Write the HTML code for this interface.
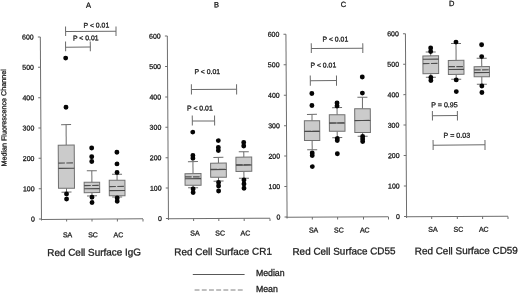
<!DOCTYPE html>
<html><head><meta charset="utf-8"><title>Red cell surface box plots</title>
<style>
html,body{margin:0;padding:0;background:#fff;}
body{width:520px;height:293px;overflow:hidden;}
svg{display:block;filter:grayscale(1);}
svg text{font-family:"Liberation Sans", sans-serif;fill:#1e1e1e;stroke:#1e1e1e;stroke-width:0.3px;}
</style></head><body>
<svg width="520" height="293" viewBox="0 0 520 293">
<rect width="520" height="293" fill="#fff"/>
<g transform="rotate(-0.36 260.0 146.5)">
<text x="89.38" y="6.63" font-size="7.5" text-anchor="middle">A</text>
<line x1="41.02" y1="35.52" x2="41.02" y2="219.22" stroke="#6e6e6e" stroke-width="1"/>
<line x1="38.48" y1="217.72" x2="40.98" y2="217.72" stroke="#6e6e6e" stroke-width="1"/>
<text x="34.36" y="220.18" font-size="7" text-anchor="end">0</text>
<line x1="38.49" y1="187.35" x2="40.99" y2="187.35" stroke="#6e6e6e" stroke-width="1"/>
<text x="34.38" y="189.82" font-size="7" text-anchor="end">100</text>
<line x1="38.51" y1="156.98" x2="41.01" y2="156.98" stroke="#6e6e6e" stroke-width="1"/>
<text x="34.39" y="159.45" font-size="7" text-anchor="end">200</text>
<line x1="38.52" y1="126.62" x2="41.02" y2="126.62" stroke="#6e6e6e" stroke-width="1"/>
<text x="34.40" y="129.08" font-size="7" text-anchor="end">300</text>
<line x1="38.54" y1="96.25" x2="41.04" y2="96.25" stroke="#6e6e6e" stroke-width="1"/>
<text x="34.42" y="98.72" font-size="7" text-anchor="end">400</text>
<line x1="38.55" y1="65.88" x2="41.05" y2="65.88" stroke="#6e6e6e" stroke-width="1"/>
<text x="34.43" y="68.35" font-size="7" text-anchor="end">500</text>
<line x1="38.56" y1="35.51" x2="41.06" y2="35.51" stroke="#6e6e6e" stroke-width="1"/>
<text x="34.45" y="37.98" font-size="7" text-anchor="end">600</text>
<line x1="40.45" y1="218.04" x2="142.55" y2="218.04" stroke="#6e6e6e" stroke-width="1"/>
<line x1="66.14" y1="217.88" x2="66.14" y2="220.38" stroke="#6e6e6e" stroke-width="1"/>
<text x="67.03" y="235.99" font-size="7" text-anchor="middle">SA</text>
<line x1="91.54" y1="218.04" x2="91.54" y2="220.54" stroke="#6e6e6e" stroke-width="1"/>
<text x="92.43" y="236.15" font-size="7" text-anchor="middle">SC</text>
<line x1="116.94" y1="218.20" x2="116.94" y2="220.70" stroke="#6e6e6e" stroke-width="1"/>
<text x="117.83" y="236.31" font-size="7" text-anchor="middle">AC</text>
<line x1="142.54" y1="218.36" x2="142.54" y2="220.86" stroke="#6e6e6e" stroke-width="1"/>
<text x="46.57" y="254.66" font-size="9.93">Red Cell Surface IgG</text>
<line x1="66.23" y1="123.38" x2="66.23" y2="143.88" stroke="#6c6c6c" stroke-width="1"/>
<line x1="66.23" y1="186.98" x2="66.23" y2="190.88" stroke="#6c6c6c" stroke-width="1"/>
<line x1="61.23" y1="123.38" x2="71.23" y2="123.38" stroke="#6c6c6c" stroke-width="1"/>
<line x1="61.23" y1="190.88" x2="71.23" y2="190.88" stroke="#6c6c6c" stroke-width="1"/>
<rect x="58.23" y="143.88" width="16.00" height="43.10" fill="#cbcbcb" stroke="#707070" stroke-width="1"/>
<line x1="58.23" y1="161.78" x2="74.23" y2="161.78" stroke="#505050" stroke-width="1.2" stroke-dasharray="6.6,1.4"/>
<line x1="58.23" y1="167.08" x2="74.23" y2="167.08" stroke="#4a4a4a" stroke-width="1.1"/>
<circle cx="66.23" cy="56.88" r="2.45" fill="#050505"/>
<circle cx="66.23" cy="106.08" r="2.45" fill="#050505"/>
<circle cx="66.23" cy="192.68" r="2.45" fill="#050505"/>
<circle cx="66.23" cy="197.78" r="2.45" fill="#050505"/>
<line x1="91.67" y1="169.74" x2="91.67" y2="181.24" stroke="#6c6c6c" stroke-width="1"/>
<line x1="91.67" y1="191.54" x2="91.67" y2="194.84" stroke="#6c6c6c" stroke-width="1"/>
<line x1="86.67" y1="169.74" x2="96.67" y2="169.74" stroke="#6c6c6c" stroke-width="1"/>
<line x1="86.67" y1="194.84" x2="96.67" y2="194.84" stroke="#6c6c6c" stroke-width="1"/>
<rect x="83.92" y="181.24" width="15.50" height="10.30" fill="#cbcbcb" stroke="#707070" stroke-width="1"/>
<line x1="83.92" y1="184.44" x2="99.42" y2="184.44" stroke="#505050" stroke-width="1.2" stroke-dasharray="6.6,1.4"/>
<line x1="83.92" y1="187.64" x2="99.42" y2="187.64" stroke="#4a4a4a" stroke-width="1.1"/>
<circle cx="91.67" cy="146.94" r="2.45" fill="#050505"/>
<circle cx="91.67" cy="155.64" r="2.45" fill="#050505"/>
<circle cx="91.67" cy="160.44" r="2.45" fill="#050505"/>
<circle cx="91.67" cy="196.24" r="2.45" fill="#050505"/>
<circle cx="91.67" cy="201.44" r="2.45" fill="#050505"/>
<line x1="116.87" y1="173.30" x2="116.87" y2="179.40" stroke="#6c6c6c" stroke-width="1"/>
<line x1="116.87" y1="194.80" x2="116.87" y2="196.10" stroke="#6c6c6c" stroke-width="1"/>
<line x1="111.87" y1="173.30" x2="121.87" y2="173.30" stroke="#6c6c6c" stroke-width="1"/>
<line x1="111.87" y1="196.10" x2="121.87" y2="196.10" stroke="#6c6c6c" stroke-width="1"/>
<rect x="109.02" y="179.40" width="15.70" height="15.40" fill="#cbcbcb" stroke="#707070" stroke-width="1"/>
<line x1="109.02" y1="185.60" x2="124.72" y2="185.60" stroke="#505050" stroke-width="1.2" stroke-dasharray="6.6,1.4"/>
<line x1="109.02" y1="189.70" x2="124.72" y2="189.70" stroke="#4a4a4a" stroke-width="1.1"/>
<circle cx="116.87" cy="151.40" r="2.45" fill="#050505"/>
<circle cx="116.87" cy="163.00" r="2.45" fill="#050505"/>
<circle cx="116.87" cy="171.60" r="2.45" fill="#050505"/>
<circle cx="116.87" cy="197.10" r="2.45" fill="#050505"/>
<circle cx="116.87" cy="200.30" r="2.45" fill="#050505"/>
<line x1="66.33" y1="30.34" x2="116.73" y2="30.34" stroke="#6a6a6a" stroke-width="1"/>
<line x1="66.33" y1="25.38" x2="66.33" y2="34.78" stroke="#6a6a6a" stroke-width="1"/>
<line x1="116.73" y1="25.70" x2="116.73" y2="35.10" stroke="#6a6a6a" stroke-width="1"/>
<text x="84.25" y="26.59" font-size="6.9">P &lt; 0.01</text>
<line x1="66.23" y1="45.96" x2="90.93" y2="45.96" stroke="#6a6a6a" stroke-width="1"/>
<line x1="66.23" y1="40.38" x2="66.23" y2="49.98" stroke="#6a6a6a" stroke-width="1"/>
<line x1="90.93" y1="40.54" x2="90.93" y2="50.14" stroke="#6a6a6a" stroke-width="1"/>
<text x="73.57" y="39.23" font-size="6.9">P &lt; 0.01</text>
<text x="217.38" y="7.03" font-size="7.5" text-anchor="middle">B</text>
<line x1="168.02" y1="35.52" x2="168.02" y2="219.42" stroke="#6e6e6e" stroke-width="1"/>
<line x1="165.48" y1="217.92" x2="167.98" y2="217.92" stroke="#6e6e6e" stroke-width="1"/>
<text x="161.36" y="220.38" font-size="7" text-anchor="end">0</text>
<line x1="165.49" y1="187.51" x2="167.99" y2="187.51" stroke="#6e6e6e" stroke-width="1"/>
<text x="161.38" y="189.98" font-size="7" text-anchor="end">100</text>
<line x1="165.51" y1="157.11" x2="168.01" y2="157.11" stroke="#6e6e6e" stroke-width="1"/>
<text x="161.39" y="159.58" font-size="7" text-anchor="end">200</text>
<line x1="165.52" y1="126.71" x2="168.02" y2="126.71" stroke="#6e6e6e" stroke-width="1"/>
<text x="161.41" y="129.18" font-size="7" text-anchor="end">300</text>
<line x1="165.54" y1="96.31" x2="168.04" y2="96.31" stroke="#6e6e6e" stroke-width="1"/>
<text x="161.42" y="98.78" font-size="7" text-anchor="end">400</text>
<line x1="165.55" y1="65.91" x2="168.05" y2="65.91" stroke="#6e6e6e" stroke-width="1"/>
<text x="161.44" y="68.38" font-size="7" text-anchor="end">500</text>
<line x1="165.57" y1="35.51" x2="168.07" y2="35.51" stroke="#6e6e6e" stroke-width="1"/>
<text x="161.45" y="37.98" font-size="7" text-anchor="end">600</text>
<line x1="167.45" y1="218.24" x2="269.55" y2="218.24" stroke="#6e6e6e" stroke-width="1"/>
<line x1="193.14" y1="218.08" x2="193.14" y2="220.58" stroke="#6e6e6e" stroke-width="1"/>
<text x="194.34" y="234.99" font-size="7" text-anchor="middle">SA</text>
<line x1="218.34" y1="218.24" x2="218.34" y2="220.74" stroke="#6e6e6e" stroke-width="1"/>
<text x="219.54" y="235.15" font-size="7" text-anchor="middle">SC</text>
<line x1="243.74" y1="218.40" x2="243.74" y2="220.90" stroke="#6e6e6e" stroke-width="1"/>
<text x="244.94" y="235.31" font-size="7" text-anchor="middle">AC</text>
<line x1="269.54" y1="218.56" x2="269.54" y2="221.06" stroke="#6e6e6e" stroke-width="1"/>
<text x="173.67" y="254.76" font-size="9.93">Red Cell Surface CR1</text>
<line x1="192.84" y1="161.18" x2="192.84" y2="173.18" stroke="#6c6c6c" stroke-width="1"/>
<line x1="192.84" y1="184.78" x2="192.84" y2="187.38" stroke="#6c6c6c" stroke-width="1"/>
<line x1="187.84" y1="161.18" x2="197.84" y2="161.18" stroke="#6c6c6c" stroke-width="1"/>
<line x1="187.84" y1="187.38" x2="197.84" y2="187.38" stroke="#6c6c6c" stroke-width="1"/>
<rect x="184.84" y="173.18" width="16.00" height="11.60" fill="#cbcbcb" stroke="#707070" stroke-width="1"/>
<line x1="184.84" y1="176.48" x2="200.84" y2="176.48" stroke="#505050" stroke-width="1.2" stroke-dasharray="6.6,1.4"/>
<line x1="184.84" y1="178.28" x2="200.84" y2="178.28" stroke="#4a4a4a" stroke-width="1.1"/>
<circle cx="192.84" cy="131.68" r="2.45" fill="#050505"/>
<circle cx="192.84" cy="155.08" r="2.45" fill="#050505"/>
<circle cx="192.84" cy="157.88" r="2.45" fill="#050505"/>
<circle cx="192.84" cy="188.58" r="2.45" fill="#050505"/>
<circle cx="192.84" cy="192.08" r="2.45" fill="#050505"/>
<line x1="218.33" y1="157.14" x2="218.33" y2="162.84" stroke="#6c6c6c" stroke-width="1"/>
<line x1="218.33" y1="176.94" x2="218.33" y2="180.84" stroke="#6c6c6c" stroke-width="1"/>
<line x1="213.33" y1="157.14" x2="223.33" y2="157.14" stroke="#6c6c6c" stroke-width="1"/>
<line x1="213.33" y1="180.84" x2="223.33" y2="180.84" stroke="#6c6c6c" stroke-width="1"/>
<rect x="210.48" y="162.84" width="15.70" height="14.10" fill="#cbcbcb" stroke="#707070" stroke-width="1"/>
<line x1="210.48" y1="169.14" x2="226.18" y2="169.14" stroke="#505050" stroke-width="1.2" stroke-dasharray="6.6,1.4"/>
<line x1="210.48" y1="169.34" x2="226.18" y2="169.34" stroke="#4a4a4a" stroke-width="1.1"/>
<circle cx="218.33" cy="140.34" r="2.45" fill="#050505"/>
<circle cx="218.33" cy="147.24" r="2.45" fill="#050505"/>
<circle cx="218.33" cy="150.24" r="2.45" fill="#050505"/>
<circle cx="218.33" cy="182.24" r="2.45" fill="#050505"/>
<circle cx="218.33" cy="185.74" r="2.45" fill="#050505"/>
<circle cx="218.33" cy="190.74" r="2.45" fill="#050505"/>
<line x1="243.74" y1="151.70" x2="243.74" y2="157.00" stroke="#6c6c6c" stroke-width="1"/>
<line x1="243.74" y1="171.30" x2="243.74" y2="178.10" stroke="#6c6c6c" stroke-width="1"/>
<line x1="238.74" y1="151.70" x2="248.74" y2="151.70" stroke="#6c6c6c" stroke-width="1"/>
<line x1="238.74" y1="178.10" x2="248.74" y2="178.10" stroke="#6c6c6c" stroke-width="1"/>
<rect x="235.84" y="157.00" width="15.80" height="14.30" fill="#cbcbcb" stroke="#707070" stroke-width="1"/>
<line x1="235.84" y1="164.70" x2="251.64" y2="164.70" stroke="#505050" stroke-width="1.2" stroke-dasharray="6.6,1.4"/>
<line x1="235.84" y1="165.00" x2="251.64" y2="165.00" stroke="#4a4a4a" stroke-width="1.1"/>
<circle cx="243.74" cy="142.40" r="2.45" fill="#050505"/>
<circle cx="243.74" cy="145.90" r="2.45" fill="#050505"/>
<circle cx="243.74" cy="179.90" r="2.45" fill="#050505"/>
<circle cx="243.74" cy="183.90" r="2.45" fill="#050505"/>
<circle cx="243.74" cy="188.10" r="2.45" fill="#050505"/>
<line x1="191.76" y1="89.11" x2="236.96" y2="89.11" stroke="#6a6a6a" stroke-width="1"/>
<line x1="191.76" y1="83.87" x2="191.76" y2="94.07" stroke="#6a6a6a" stroke-width="1"/>
<line x1="236.96" y1="84.15" x2="236.96" y2="94.35" stroke="#6a6a6a" stroke-width="1"/>
<text x="194.86" y="73.69" font-size="6.9">P &lt; 0.01</text>
<line x1="192.46" y1="120.65" x2="214.76" y2="120.65" stroke="#6a6a6a" stroke-width="1"/>
<line x1="192.46" y1="114.98" x2="192.46" y2="125.18" stroke="#6a6a6a" stroke-width="1"/>
<line x1="214.76" y1="115.12" x2="214.76" y2="125.32" stroke="#6a6a6a" stroke-width="1"/>
<text x="187.23" y="110.14" font-size="6.9">P &lt; 0.01</text>
<text x="344.38" y="7.43" font-size="7.5" text-anchor="middle">C</text>
<line x1="286.63" y1="34.47" x2="286.63" y2="218.67" stroke="#6e6e6e" stroke-width="1"/>
<line x1="284.09" y1="217.16" x2="286.59" y2="217.16" stroke="#6e6e6e" stroke-width="1"/>
<text x="279.97" y="219.63" font-size="7" text-anchor="end">0</text>
<line x1="284.10" y1="186.71" x2="286.60" y2="186.71" stroke="#6e6e6e" stroke-width="1"/>
<text x="279.99" y="189.18" font-size="7" text-anchor="end">100</text>
<line x1="284.12" y1="156.26" x2="286.62" y2="156.26" stroke="#6e6e6e" stroke-width="1"/>
<text x="280.00" y="158.73" font-size="7" text-anchor="end">200</text>
<line x1="284.13" y1="125.81" x2="286.63" y2="125.81" stroke="#6e6e6e" stroke-width="1"/>
<text x="280.01" y="128.28" font-size="7" text-anchor="end">300</text>
<line x1="284.15" y1="95.36" x2="286.65" y2="95.36" stroke="#6e6e6e" stroke-width="1"/>
<text x="280.03" y="97.82" font-size="7" text-anchor="end">400</text>
<line x1="284.16" y1="64.91" x2="286.66" y2="64.91" stroke="#6e6e6e" stroke-width="1"/>
<text x="280.04" y="67.37" font-size="7" text-anchor="end">500</text>
<line x1="284.17" y1="34.46" x2="286.67" y2="34.46" stroke="#6e6e6e" stroke-width="1"/>
<text x="280.06" y="36.92" font-size="7" text-anchor="end">600</text>
<line x1="286.06" y1="217.49" x2="388.06" y2="217.49" stroke="#6e6e6e" stroke-width="1"/>
<line x1="311.85" y1="217.33" x2="311.85" y2="219.83" stroke="#6e6e6e" stroke-width="1"/>
<text x="313.06" y="232.74" font-size="7" text-anchor="middle">SA</text>
<line x1="337.15" y1="217.49" x2="337.15" y2="219.99" stroke="#6e6e6e" stroke-width="1"/>
<text x="338.36" y="232.89" font-size="7" text-anchor="middle">SC</text>
<line x1="363.05" y1="217.65" x2="363.05" y2="220.15" stroke="#6e6e6e" stroke-width="1"/>
<text x="364.26" y="233.06" font-size="7" text-anchor="middle">AC</text>
<line x1="388.05" y1="217.81" x2="388.05" y2="220.31" stroke="#6e6e6e" stroke-width="1"/>
<text x="291.77" y="255.10" font-size="9.93">Red Cell Surface CD55</text>
<line x1="312.17" y1="114.73" x2="312.17" y2="121.13" stroke="#6c6c6c" stroke-width="1"/>
<line x1="312.17" y1="140.83" x2="312.17" y2="150.03" stroke="#6c6c6c" stroke-width="1"/>
<line x1="307.17" y1="114.73" x2="317.17" y2="114.73" stroke="#6c6c6c" stroke-width="1"/>
<line x1="307.17" y1="150.03" x2="317.17" y2="150.03" stroke="#6c6c6c" stroke-width="1"/>
<rect x="304.52" y="121.13" width="15.30" height="19.70" fill="#cbcbcb" stroke="#707070" stroke-width="1"/>
<line x1="304.52" y1="131.73" x2="319.82" y2="131.73" stroke="#505050" stroke-width="1.2" stroke-dasharray="6.6,1.4"/>
<line x1="304.52" y1="131.73" x2="319.82" y2="131.73" stroke="#4a4a4a" stroke-width="1.1"/>
<circle cx="312.17" cy="93.83" r="2.45" fill="#050505"/>
<circle cx="312.17" cy="105.83" r="2.45" fill="#050505"/>
<circle cx="312.17" cy="153.33" r="2.45" fill="#050505"/>
<circle cx="312.17" cy="155.83" r="2.45" fill="#050505"/>
<circle cx="312.17" cy="166.93" r="2.45" fill="#050505"/>
<line x1="337.30" y1="108.08" x2="337.30" y2="115.28" stroke="#6c6c6c" stroke-width="1"/>
<line x1="337.30" y1="131.69" x2="337.30" y2="138.09" stroke="#6c6c6c" stroke-width="1"/>
<line x1="332.30" y1="108.08" x2="342.30" y2="108.08" stroke="#6c6c6c" stroke-width="1"/>
<line x1="332.30" y1="138.09" x2="342.30" y2="138.09" stroke="#6c6c6c" stroke-width="1"/>
<rect x="329.50" y="115.29" width="15.60" height="16.40" fill="#cbcbcb" stroke="#707070" stroke-width="1"/>
<line x1="329.50" y1="123.49" x2="345.10" y2="123.49" stroke="#505050" stroke-width="1.2" stroke-dasharray="6.6,1.4"/>
<line x1="329.50" y1="123.49" x2="345.10" y2="123.49" stroke="#4a4a4a" stroke-width="1.1"/>
<circle cx="337.30" cy="103.48" r="2.45" fill="#050505"/>
<circle cx="337.30" cy="106.48" r="2.45" fill="#050505"/>
<circle cx="337.30" cy="138.99" r="2.45" fill="#050505"/>
<circle cx="337.30" cy="140.99" r="2.45" fill="#050505"/>
<circle cx="337.30" cy="154.19" r="2.45" fill="#050505"/>
<line x1="362.71" y1="97.94" x2="362.71" y2="109.34" stroke="#6c6c6c" stroke-width="1"/>
<line x1="362.71" y1="133.15" x2="362.71" y2="136.85" stroke="#6c6c6c" stroke-width="1"/>
<line x1="357.71" y1="97.94" x2="367.71" y2="97.94" stroke="#6c6c6c" stroke-width="1"/>
<line x1="357.71" y1="136.85" x2="367.71" y2="136.85" stroke="#6c6c6c" stroke-width="1"/>
<rect x="354.91" y="109.34" width="15.60" height="23.80" fill="#cbcbcb" stroke="#707070" stroke-width="1"/>
<line x1="354.91" y1="121.14" x2="370.51" y2="121.14" stroke="#505050" stroke-width="1.2" stroke-dasharray="6.6,1.4"/>
<line x1="354.91" y1="121.14" x2="370.51" y2="121.14" stroke="#4a4a4a" stroke-width="1.1"/>
<circle cx="362.71" cy="77.64" r="2.45" fill="#050505"/>
<circle cx="362.71" cy="93.74" r="2.45" fill="#050505"/>
<circle cx="362.71" cy="137.15" r="2.45" fill="#050505"/>
<circle cx="362.71" cy="139.65" r="2.45" fill="#050505"/>
<circle cx="362.71" cy="142.15" r="2.45" fill="#050505"/>
<line x1="311.92" y1="48.79" x2="363.42" y2="48.79" stroke="#6a6a6a" stroke-width="1"/>
<line x1="311.92" y1="43.62" x2="311.92" y2="53.32" stroke="#6a6a6a" stroke-width="1"/>
<line x1="363.42" y1="43.95" x2="363.42" y2="53.65" stroke="#6a6a6a" stroke-width="1"/>
<text x="323.16" y="41.99" font-size="6.9">P &lt; 0.01</text>
<line x1="310.71" y1="81.10" x2="336.91" y2="81.10" stroke="#6a6a6a" stroke-width="1"/>
<line x1="310.71" y1="75.92" x2="310.71" y2="86.12" stroke="#6a6a6a" stroke-width="1"/>
<line x1="336.91" y1="76.08" x2="336.91" y2="86.28" stroke="#6a6a6a" stroke-width="1"/>
<text x="311.00" y="67.82" font-size="6.9">P &lt; 0.01</text>
<text x="452.48" y="7.21" font-size="7.5" text-anchor="middle">D</text>
<line x1="406.13" y1="34.62" x2="406.13" y2="218.92" stroke="#6e6e6e" stroke-width="1"/>
<line x1="403.59" y1="217.41" x2="406.09" y2="217.41" stroke="#6e6e6e" stroke-width="1"/>
<text x="399.47" y="219.88" font-size="7" text-anchor="end">0</text>
<line x1="403.60" y1="186.94" x2="406.10" y2="186.94" stroke="#6e6e6e" stroke-width="1"/>
<text x="399.49" y="189.41" font-size="7" text-anchor="end">100</text>
<line x1="403.62" y1="156.48" x2="406.12" y2="156.48" stroke="#6e6e6e" stroke-width="1"/>
<text x="399.50" y="158.94" font-size="7" text-anchor="end">200</text>
<line x1="403.63" y1="126.01" x2="406.13" y2="126.01" stroke="#6e6e6e" stroke-width="1"/>
<text x="399.52" y="128.48" font-size="7" text-anchor="end">300</text>
<line x1="403.65" y1="95.54" x2="406.15" y2="95.54" stroke="#6e6e6e" stroke-width="1"/>
<text x="399.53" y="98.01" font-size="7" text-anchor="end">400</text>
<line x1="403.66" y1="65.08" x2="406.16" y2="65.08" stroke="#6e6e6e" stroke-width="1"/>
<text x="399.55" y="67.54" font-size="7" text-anchor="end">500</text>
<line x1="403.68" y1="34.61" x2="406.18" y2="34.61" stroke="#6e6e6e" stroke-width="1"/>
<text x="399.56" y="37.07" font-size="7" text-anchor="end">600</text>
<line x1="405.56" y1="217.74" x2="507.56" y2="217.74" stroke="#6e6e6e" stroke-width="1"/>
<line x1="431.25" y1="217.58" x2="431.25" y2="220.08" stroke="#6e6e6e" stroke-width="1"/>
<text x="432.36" y="232.78" font-size="7" text-anchor="middle">SA</text>
<line x1="456.85" y1="217.74" x2="456.85" y2="220.24" stroke="#6e6e6e" stroke-width="1"/>
<text x="457.96" y="232.95" font-size="7" text-anchor="middle">SC</text>
<line x1="482.15" y1="217.90" x2="482.15" y2="220.40" stroke="#6e6e6e" stroke-width="1"/>
<text x="483.26" y="233.10" font-size="7" text-anchor="middle">AC</text>
<line x1="507.55" y1="218.06" x2="507.55" y2="220.56" stroke="#6e6e6e" stroke-width="1"/>
<text x="414.07" y="255.37" font-size="9.93">Red Cell Surface CD59</text>
<line x1="431.29" y1="53.07" x2="431.29" y2="56.97" stroke="#6c6c6c" stroke-width="1"/>
<line x1="431.29" y1="74.67" x2="431.29" y2="78.37" stroke="#6c6c6c" stroke-width="1"/>
<line x1="426.29" y1="53.07" x2="436.29" y2="53.07" stroke="#6c6c6c" stroke-width="1"/>
<line x1="426.29" y1="78.37" x2="436.29" y2="78.37" stroke="#6c6c6c" stroke-width="1"/>
<rect x="423.44" y="56.97" width="15.70" height="17.70" fill="#cbcbcb" stroke="#707070" stroke-width="1"/>
<line x1="423.44" y1="64.57" x2="439.14" y2="64.57" stroke="#505050" stroke-width="1.2" stroke-dasharray="6.6,1.4"/>
<line x1="423.44" y1="60.27" x2="439.14" y2="60.27" stroke="#4a4a4a" stroke-width="1.1"/>
<circle cx="431.28" cy="49.07" r="2.45" fill="#050505"/>
<circle cx="431.29" cy="52.57" r="2.45" fill="#050505"/>
<circle cx="431.29" cy="78.57" r="2.45" fill="#050505"/>
<circle cx="431.29" cy="81.57" r="2.45" fill="#050505"/>
<line x1="456.64" y1="44.73" x2="456.64" y2="61.63" stroke="#6c6c6c" stroke-width="1"/>
<line x1="456.64" y1="75.63" x2="456.64" y2="80.53" stroke="#6c6c6c" stroke-width="1"/>
<line x1="451.64" y1="44.73" x2="461.64" y2="44.73" stroke="#6c6c6c" stroke-width="1"/>
<line x1="451.64" y1="80.53" x2="461.64" y2="80.53" stroke="#6c6c6c" stroke-width="1"/>
<rect x="448.84" y="61.63" width="15.60" height="14.00" fill="#cbcbcb" stroke="#707070" stroke-width="1"/>
<line x1="448.84" y1="67.83" x2="464.44" y2="67.83" stroke="#505050" stroke-width="1.2" stroke-dasharray="6.6,1.4"/>
<line x1="448.84" y1="70.63" x2="464.44" y2="70.63" stroke="#4a4a4a" stroke-width="1.1"/>
<circle cx="456.64" cy="43.33" r="2.45" fill="#050505"/>
<circle cx="456.64" cy="81.13" r="2.45" fill="#050505"/>
<circle cx="456.64" cy="92.83" r="2.45" fill="#050505"/>
<line x1="482.24" y1="59.59" x2="482.24" y2="67.99" stroke="#6c6c6c" stroke-width="1"/>
<line x1="482.24" y1="78.10" x2="482.24" y2="85.70" stroke="#6c6c6c" stroke-width="1"/>
<line x1="477.24" y1="59.59" x2="487.24" y2="59.59" stroke="#6c6c6c" stroke-width="1"/>
<line x1="477.24" y1="85.70" x2="487.24" y2="85.70" stroke="#6c6c6c" stroke-width="1"/>
<rect x="474.59" y="67.99" width="15.30" height="10.10" fill="#cbcbcb" stroke="#707070" stroke-width="1"/>
<line x1="474.59" y1="71.19" x2="489.89" y2="71.19" stroke="#505050" stroke-width="1.2" stroke-dasharray="6.6,1.4"/>
<line x1="474.59" y1="73.99" x2="489.89" y2="73.99" stroke="#4a4a4a" stroke-width="1.1"/>
<circle cx="482.24" cy="46.19" r="2.45" fill="#050505"/>
<circle cx="482.24" cy="57.99" r="2.45" fill="#050505"/>
<circle cx="482.24" cy="87.40" r="2.45" fill="#050505"/>
<circle cx="482.24" cy="93.90" r="2.45" fill="#050505"/>
<line x1="432.59" y1="116.86" x2="457.59" y2="116.86" stroke="#6a6a6a" stroke-width="1"/>
<line x1="432.59" y1="111.98" x2="432.59" y2="121.68" stroke="#6a6a6a" stroke-width="1"/>
<line x1="457.59" y1="112.14" x2="457.59" y2="121.84" stroke="#6a6a6a" stroke-width="1"/>
<text x="431.44" y="108.38" font-size="7.1">P = 0.95</text>
<line x1="433.11" y1="146.25" x2="485.01" y2="146.25" stroke="#6a6a6a" stroke-width="1"/>
<line x1="433.11" y1="141.09" x2="433.11" y2="151.09" stroke="#6a6a6a" stroke-width="1"/>
<line x1="485.00" y1="141.41" x2="485.00" y2="151.41" stroke="#6a6a6a" stroke-width="1"/>
<text x="443.65" y="138.95" font-size="7.1">P = 0.03</text>
<text transform="translate(6.48,165.01) rotate(-90)" font-size="7.2">Median Fluorescence Channel</text>
</g>
<line x1="192.8" y1="274.5" x2="244.6" y2="274.5" stroke="#585858" stroke-width="1"/>
<line x1="194.6" y1="290" x2="244.6" y2="290" stroke="#808080" stroke-width="1" stroke-dasharray="4.9,2.3"/>
<text x="255.9" y="276.4" font-size="8.75">Median</text>
<text x="255.9" y="291.7" font-size="8.75">Mean</text>
</svg>
</body></html>
